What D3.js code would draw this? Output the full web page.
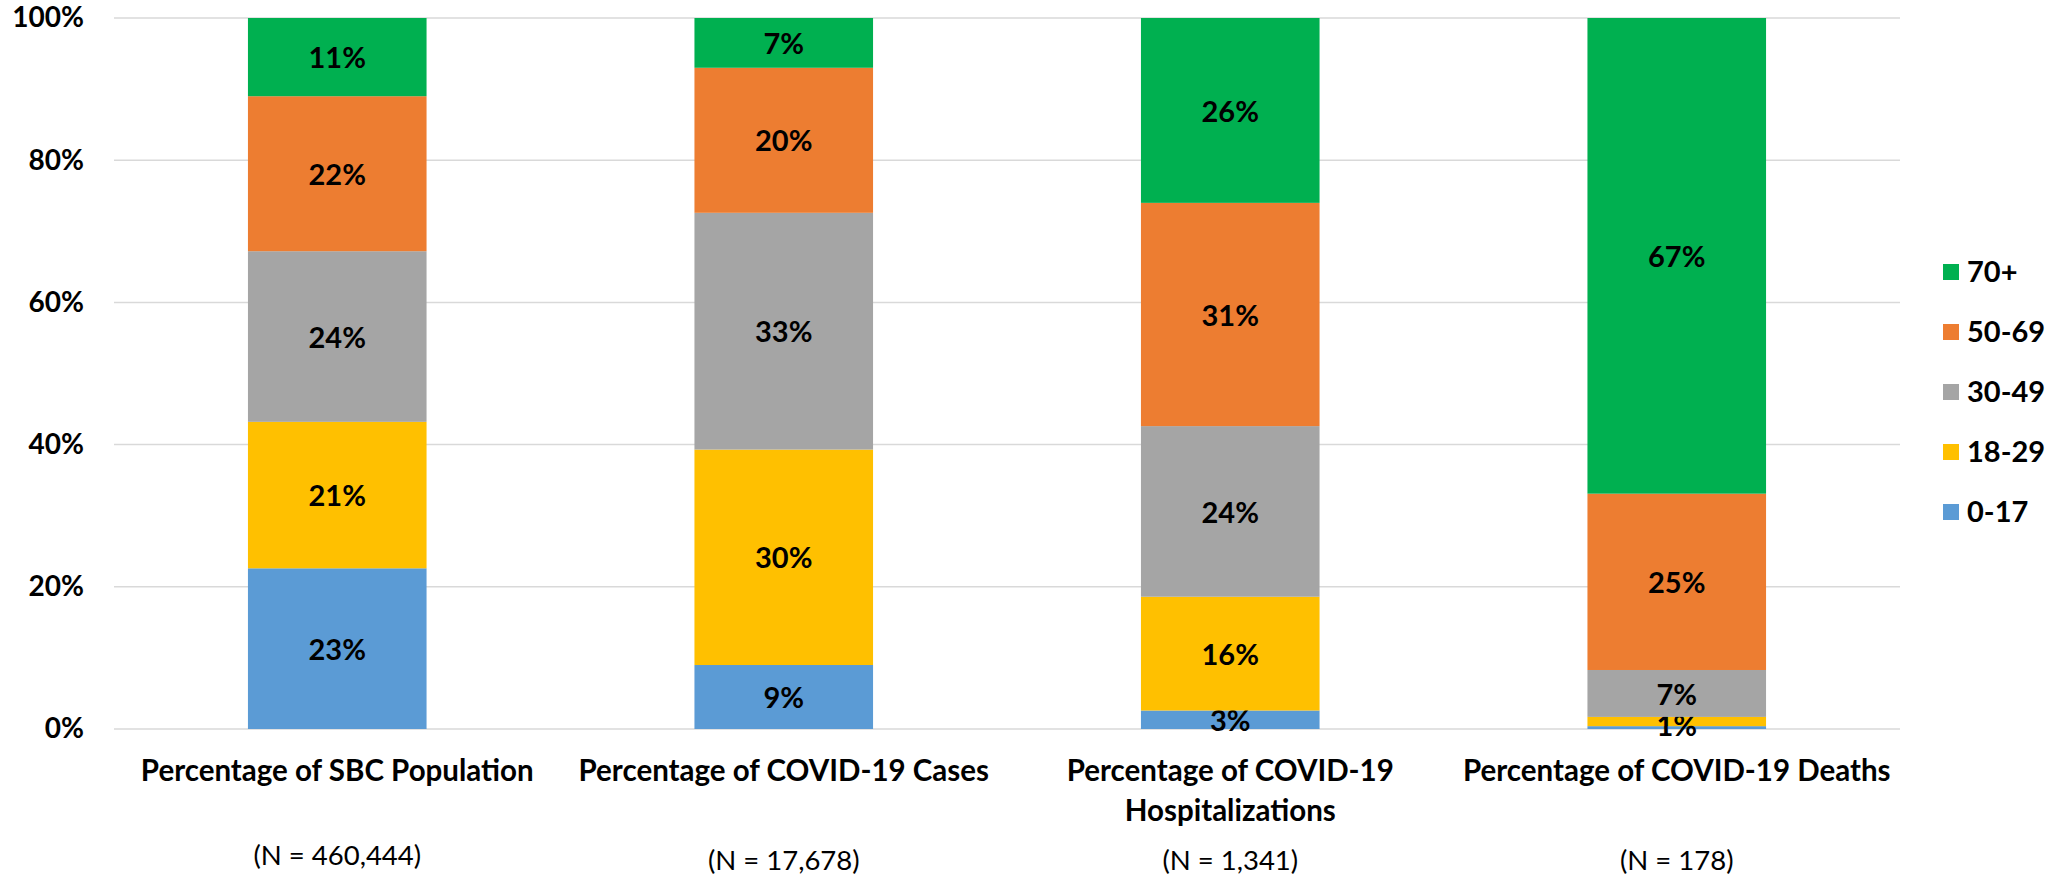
<!DOCTYPE html>
<html>
<head>
<meta charset="utf-8">
<script src="https://cdn.jsdelivr.net/npm/d3@7"></script>
<style>
  body { margin: 0; background: #fff; }
  svg { display: block; font-family: Lato, "Open Sans", sans-serif; }
</style>
</head>
<body>
<svg id="chart" width="2048" height="878"></svg>
<script>
// categories and their N counts
const categories = ["Percentage of SBC Population", "Percentage of COVID-19 Cases", "Percentage of COVID-19 Hospitalizations", "Percentage of COVID-19 Deaths"];
const categoryLines = [["Percentage of SBC Population"], ["Percentage of COVID-19 Cases"], ["Percentage of COVID-19", "Hospitalizations"], ["Percentage of COVID-19 Deaths"]];
const nLabels = ["(N = 460,444)", "(N = 17,678)", "(N = 1,341)", "(N = 178)"];

// age groups, bottom to top
const ageGroups = ["0-17", "18-29", "30-49", "50-69", "70+"];
const age0to17 = [22.6, 9.0, 2.6, 0.4];
const age18to29 = [20.6, 30.3, 16.0, 1.3];
const age30to49 = [24.0, 33.3, 24.0, 6.6];
const age50to69 = [21.8, 20.4, 31.4, 24.8];
const age70plus = [11.0, 7.0, 26.0, 66.9];
const yTicks = [0, 20, 40, 60, 80, 100];

const colors = {"0-17": "#5b9bd5", "18-29": "#ffc000", "30-49": "#a5a5a5", "50-69": "#ed7d31", "70+": "#00b050"};

const table = categories.map((c, i) => ({
  cat: c,
  "0-17": age0to17[i],
  "18-29": age18to29[i],
  "30-49": age30to49[i],
  "50-69": age50to69[i],
  "70+": age70plus[i]
}));

const svg = d3.select("#chart");
const plotLeft = 114, plotRight = 1900, plotTop = 18, plotBottom = 729;

const x = d3.scaleBand()
  .domain(categories)
  .range([plotLeft, plotRight])
  .paddingInner(0.6)
  .paddingOuter(0.3);

const y = d3.scaleLinear()
  .domain([0, 100])
  .range([plotBottom, plotTop]);

// gridlines
svg.append("g")
  .selectAll("line")
  .data(yTicks)
  .join("line")
  .attr("x1", plotLeft)
  .attr("x2", plotRight)
  .attr("y1", d => y(d))
  .attr("y2", d => y(d))
  .attr("stroke", "#d9d9d9")
  .attr("stroke-width", 1.5);

// y axis labels
const yAxis = svg.append("g")
  .attr("transform", "translate(" + (plotLeft - 30) + ",0)")
  .call(d3.axisLeft(y).tickValues(yTicks).tickFormat(d => d + "%").tickSize(0).tickPadding(0));
yAxis.select(".domain").remove();
yAxis.selectAll("text")
  .attr("font-family", "Lato, sans-serif")
  .attr("font-size", 28)
  .attr("font-weight", "bold")
  .attr("fill", "#000");

const stack = d3.stack().keys(ageGroups);
const series = stack(table);

const groups = svg.append("g")
  .selectAll("g")
  .data(series)
  .join("g")
  .attr("fill", d => colors[d.key]);

groups.selectAll("rect")
  .data(d => d)
  .join("rect")
  .attr("x", d => x(d.data.cat))
  .attr("width", x.bandwidth())
  .attr("y", d => y(d[1]))
  .attr("height", d => y(d[0]) - y(d[1]));

// data labels (tiny segments get nudged down a bit)
groups.selectAll("text")
  .data(d => d.filter(p => p[1] - p[0] >= 0.5))
  .join("text")
  .attr("x", d => x(d.data.cat) + x.bandwidth() / 2)
  .attr("y", d => (y(d[0]) + y(d[1])) / 2 + (d[1] - d[0] < 2 ? 4 : 1))
  .attr("dy", "0.35em")
  .attr("text-anchor", "middle")
  .attr("font-size", 29)
  .attr("font-weight", "bold")
  .attr("fill", "#000")
  .text(d => Math.round(d[1] - d[0]) + "%");

// category labels
const catG = svg.append("g")
  .selectAll("g")
  .data(categories)
  .join("g")
  .attr("transform", d => "translate(" + (x(d) + x.bandwidth() / 2) + ",0)");

catG.selectAll("text.cat")
  .data((d, i) => categoryLines[i])
  .join("text")
  .attr("class", "cat")
  .attr("y", (d, j) => 771 + j * 40)
  .attr("dy", "0.35em")
  .attr("text-anchor", "middle")
  .attr("font-size", 29.5)
  .attr("font-weight", "bold")
  .text(d => d);

catG.append("text")
  .attr("y", (d, i) => i === 0 ? 855 : 860)
  .attr("dy", "0.35em")
  .attr("text-anchor", "middle")
  .attr("font-size", 27.5)
  .text((d, i) => nLabels[i]);

// legend, top to bottom
const legend = svg.append("g")
  .selectAll("g")
  .data(ageGroups.slice().reverse())
  .join("g")
  .attr("transform", (d, i) => "translate(1943," + (272 + i * 60) + ")");

legend.append("rect")
  .attr("x", 0)
  .attr("y", -8)
  .attr("width", 16)
  .attr("height", 16)
  .attr("fill", d => colors[d]);

legend.append("text")
  .attr("x", 24)
  .attr("dy", "0.35em")
  .attr("font-size", 29)
  .attr("font-weight", "bold")
  .text(d => d);
</script>
</body>
</html>
